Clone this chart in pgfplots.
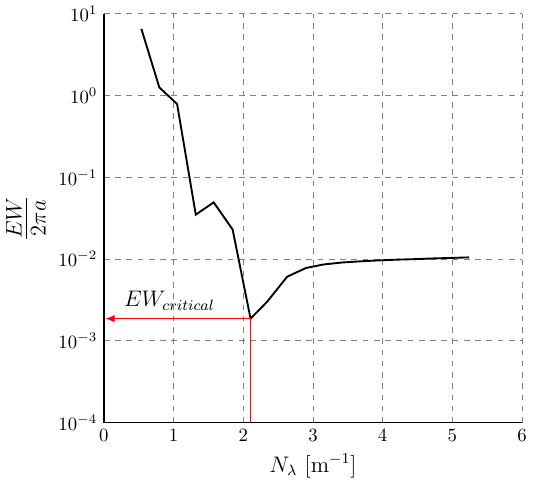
\documentclass[border=0pt]{standalone}
\usepackage{pgfplots}
\pgfplotsset{compat=1.18}
\usetikzlibrary{arrows.meta}
\begin{document}
\begin{tikzpicture}
\begin{axis}[
  scale only axis,
  width=223pt, height=218pt,
  xmin=0, xmax=6,
  ymode=log, ymin=1e-4, ymax=1e1,
  xtick={0,1,2,3,4,5,6},
  ytick={1e-4,1e-3,1e-2,1e-1,1e0,1e1},
  axis x line*=bottom, axis y line*=left,
  axis line style={black, line width=0.8pt},
  grid=major,
  major grid style={gray, dashed, line width=0.45pt},
  tick style={draw=none},
  xlabel={$N_\lambda$ [m$^{-1}$]},
  ylabel={\LARGE$\frac{EW}{2\pi a}$},
  ylabel style={rotate=0},
  xlabel style={font=\large},
]
\addplot[black, line width=1pt] coordinates {
 (0.537,6.56) (0.795,1.26) (1.05,0.79) (1.318,0.035) (1.575,0.0495)
 (1.847,0.023) (2.104,0.00187) (2.34,0.0030) (2.63,0.0061) (2.90,0.0078)
 (3.15,0.0086) (3.42,0.0091) (3.68,0.0094) (3.94,0.00965) (4.20,0.00985)
 (4.47,0.0100) (4.73,0.0102) (4.99,0.01035) (5.24,0.0105)
};
\addplot[red, line width=0.6pt, -{Latex[length=5pt,width=4pt]}] coordinates {(2.104,0.00187) (0.02,0.00187)};
\addplot[red, line width=0.6pt] coordinates {(2.104,1e-4) (2.104,0.00187)};
\node[font=\large] at (axis cs:0.94,0.0031) {$EW_{critical}$};
\end{axis}
\end{tikzpicture}
\end{document}
